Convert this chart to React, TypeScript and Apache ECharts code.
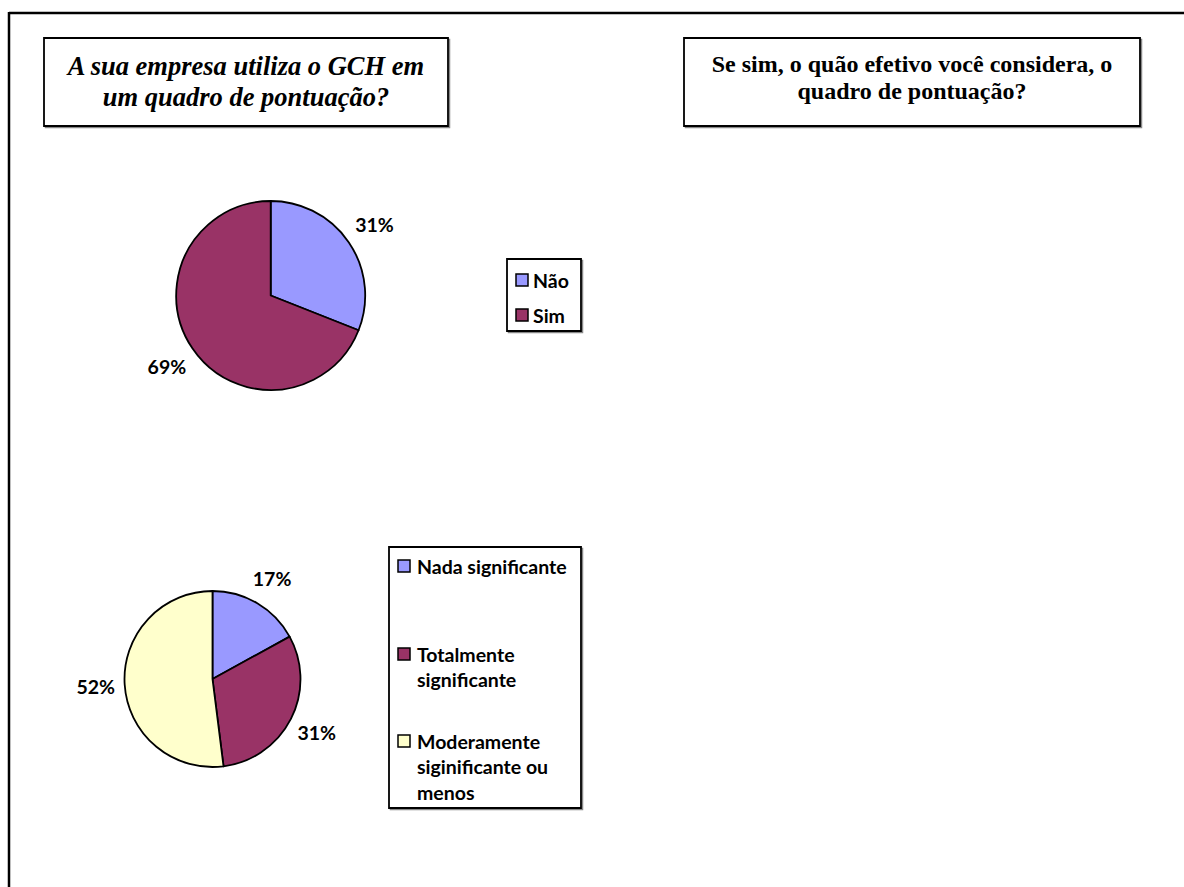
import React, { useEffect, useRef } from "react";
import * as echarts from "echarts";

const chart1Title = "A sua empresa utiliza o GCH em\num quadro de pontuação?";
const chart2Title = "Se sim, o quão efetivo você considera, o\nquadro de pontuação?";

const usageCategories = ["Não", "Sim"];
const usageValues = [31, 69];
const usageColors = ["#9999FF", "#993366"];

const effectCategories = [
  "Nada significante",
  "Totalmente\nsignificante",
  "Moderamente\nsiginificante ou\nmenos",
];
const effectValues = [17, 31, 52];
const effectColors = ["#9999FF", "#993366", "#FFFFCC"];

const SANS = "Lato, 'Noto Sans', sans-serif";
const SERIF = "'Liberation Serif', 'Times New Roman', serif";
const SANS_SIZE = 19.5;

function legendGroup(
  box: { x: number; y: number; w: number; h: number },
  iconX: number,
  textX: number,
  rowCenters: number[],
  names: string[],
  colors: string[],
  lineHeight: number
) {
  const children: any[] = [
    {
      type: "rect",
      shape: { x: box.x + 1.5, y: box.y + 1.5, width: box.w, height: box.h },
      style: { fill: "none", stroke: "#888", lineWidth: 1.5 },
    },
    {
      type: "rect",
      shape: { x: box.x, y: box.y, width: box.w, height: box.h },
      style: { fill: "#fff", stroke: "#000", lineWidth: 1.8 },
    },
  ];
  names.forEach((n, i) => {
    const cy = rowCenters[i];
    children.push({
      type: "rect",
      shape: { x: iconX, y: cy - 6, width: 12, height: 12 },
      style: { fill: colors[i], stroke: "#000", lineWidth: 1.5 },
    });
    children.push({
      type: "text",
      style: {
        text: n,
        x: textX,
        y: cy - lineHeight / 2,
        align: "left",
        verticalAlign: "top",
        lineHeight,
        font: `bold ${SANS_SIZE}px ${SANS}`,
        fill: "#000",
      },
    });
  });
  return { type: "group", children };
}

function titleBox(
  box: { x: number; y: number; w: number; h: number },
  text: string,
  font: string,
  lineHeight: number,
  cy: number
) {
  return {
    type: "group",
    children: [
      {
        type: "rect",
        shape: { x: box.x + 1.5, y: box.y + 1.5, width: box.w, height: box.h },
        style: { fill: "none", stroke: "#888", lineWidth: 1.5 },
      },
      {
        type: "rect",
        shape: { x: box.x, y: box.y, width: box.w, height: box.h },
        style: { fill: "#fff", stroke: "#000", lineWidth: 1.8 },
      },
      {
        type: "text",
        style: {
          text,
          x: box.x + box.w / 2,
          y: cy,
          align: "center",
          verticalAlign: "middle",
          lineHeight,
          font,
          fill: "#000",
        },
      },
    ],
  };
}

function pieWithLabels(
  names: string[],
  values: number[],
  colors: string[],
  center: [number, number],
  r: number,
  labelDist: number
) {
  const data = names.map((n, i) => ({
    name: n,
    value: values[i],
    itemStyle: { color: colors[i] },
  }));
  return [
    {
      type: "pie",
      center,
      radius: [0, r],
      startAngle: 90,
      clockwise: true,
      silent: true,
      label: { show: false },
      labelLine: { show: false },
      emphasis: { disabled: true },
      itemStyle: { borderColor: "#000", borderWidth: 1.8 },
      data,
    },
    {
      type: "pie",
      center,
      radius: [r, r + 2 * labelDist],
      startAngle: 90,
      clockwise: true,
      silent: true,
      avoidLabelOverlap: false,
      emphasis: { disabled: true },
      itemStyle: { color: "rgba(0,0,0,0)", borderWidth: 0 },
      label: {
        show: true,
        position: "inside",
        formatter: (p: any) => Math.round(p.percent) + "%",
        fontFamily: SANS,
        fontWeight: "bold",
        fontSize: SANS_SIZE,
        color: "#000",
      },
      labelLine: { show: false },
      data: names.map((n, i) => ({ name: n, value: values[i] })),
    },
  ];
}

export default function App() {
  const ref = useRef<HTMLDivElement>(null);
  useEffect(() => {
    if (!ref.current) return;
    const chart = echarts.init(ref.current, undefined, { renderer: "svg" });
    chart.setOption({
      animation: false,
      backgroundColor: "#fff",
      graphic: [
        {
          type: "line",
          shape: { x1: 9, y1: 13, x2: 1184, y2: 13 },
          style: { stroke: "#000", lineWidth: 2.5 },
        },
        {
          type: "line",
          shape: { x1: 9, y1: 12, x2: 9, y2: 887 },
          style: { stroke: "#000", lineWidth: 2.5 },
        },
        titleBox(
          { x: 44, y: 38, w: 404, h: 88 },
          chart1Title,
          `italic bold 26.5px ${SERIF}`,
          31,
          81
        ),
        titleBox(
          { x: 684, y: 38, w: 456, h: 88 },
          chart2Title,
          `bold 24px ${SERIF}`,
          27,
          77
        ),
        legendGroup(
          { x: 507, y: 259, w: 74, h: 72 },
          516,
          533,
          [280, 315],
          usageCategories,
          usageColors,
          25.5
        ),
        legendGroup(
          { x: 389, y: 547, w: 192, h: 261 },
          398,
          417,
          [566, 654, 741],
          effectCategories,
          effectColors,
          25.5
        ),
      ],
      series: [
        ...pieWithLabels(usageCategories, usageValues, usageColors, [270.7, 295.5], 94.5, 28),
        ...pieWithLabels(effectCategories, effectValues, effectColors, [212.5, 679], 88, 26),
      ],
    });
    return () => chart.dispose();
  }, []);
  return (
    <div
      ref={ref}
      style={{ position: "absolute", left: 0, top: 0, width: 1184, height: 887 }}
    />
  );
}
